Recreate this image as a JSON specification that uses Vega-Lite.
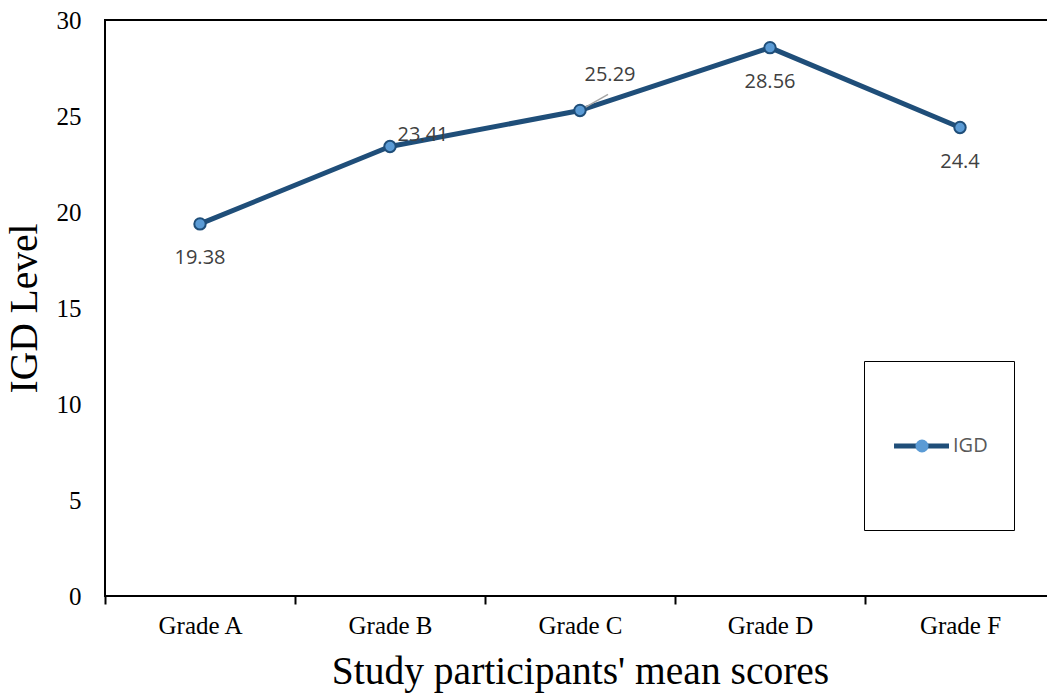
{
  "$schema": "https://vega.github.io/schema/vega-lite/v6.json",
  "width": 950,
  "height": 576,
  "autosize": {"type": "none"},
  "padding": {"left": 105, "top": 20, "right": 0, "bottom": 100},
  "background": "white",
  "config": {
    "view": {"stroke": "#000000", "strokeWidth": 2},
    "axis": {"grid": false, "domain": false},
    "legend": {"symbolSize": 170, "symbolStrokeWidth": 2}
  },
  "data": {
    "values": [
      {"grade": "Grade A", "value": 19.38, "series": "IGD", "marker": "IGD"},
      {"grade": "Grade B", "value": 23.41, "series": "IGD", "marker": "IGD"},
      {"grade": "Grade C", "value": 25.29, "series": "IGD", "marker": "IGD"},
      {"grade": "Grade D", "value": 28.56, "series": "IGD", "marker": "IGD"},
      {"grade": "Grade F", "value": 24.4, "series": "IGD", "marker": "IGD"}
    ]
  },
  "encoding": {
    "x": {
      "field": "grade",
      "type": "nominal",
      "sort": null,
      "scale": {"type": "band", "paddingInner": 0, "paddingOuter": 0},
      "axis": {
        "title": "Study participants' mean scores",
        "titleFont": "Liberation Serif",
        "titleFontSize": 39.5,
        "titleFontWeight": "normal",
        "titleColor": "#000000",
        "titlePadding": 14,
        "labelFont": "Liberation Serif",
        "labelFontSize": 25,
        "labelColor": "#000000",
        "labelAngle": 0,
        "labelPadding": 9,
        "ticks": true,
        "tickBand": "extent",
        "tickSize": 8,
        "tickWidth": 2,
        "tickColor": "#000000"
      }
    },
    "y": {
      "field": "value",
      "type": "quantitative",
      "scale": {"domain": [0, 30], "nice": false, "zero": true},
      "axis": {
        "title": "IGD Level",
        "titleFont": "Liberation Serif",
        "titleFontSize": 39.5,
        "titleFontWeight": "normal",
        "titleColor": "#000000",
        "titlePadding": 12,
        "labelFont": "Liberation Serif",
        "labelFontSize": 25,
        "labelColor": "#000000",
        "labelPadding": 24,
        "ticks": false,
        "values": [0, 5, 10, 15, 20, 25, 30]
      }
    }
  },
  "layer": [
    {
      "mark": {"type": "line", "strokeWidth": 5, "strokeCap": "round", "strokeJoin": "round"},
      "encoding": {
        "color": {
          "field": "series",
          "type": "nominal",
          "scale": {"range": ["#1F4E79"]},
          "legend": {
            "orient": "none",
            "legendX": 759,
            "legendY": 341,
            "zindex": 1,
            "title": null,
            "symbolType": "M-0.973,0L0,0M-0.5,-1L-0.5,-1M-0.5,0.835L-0.5,0.835",
            "symbolStrokeWidth": 5,
            "symbolSize": 12769,
            "strokeColor": "#000000",
            "padding": 26,
            "labelFont": "Open Sans",
            "labelFontSize": 20,
            "labelColor": "#595959",
            "labelOffset": -55
          }
        }
      }
    },
    {
      "transform": [{"filter": "datum.grade === 'Grade C'"}],
      "mark": {"type": "point", "shape": "M0,0L1,-0.57", "size": 3136, "stroke": "#A6A6A6", "strokeWidth": 1.5, "filled": false, "opacity": 1}
    },
    {
      "mark": {"type": "point", "shape": "circle", "filled": false, "fill": "#5B9BD5", "stroke": "#1F4E79", "strokeWidth": 2, "size": 130},
      "encoding": {
        "opacity": {
          "field": "marker",
          "type": "ordinal",
          "scale": {"range": [1, 1]},
          "legend": {
            "orient": "none",
            "legendX": 809,
            "legendY": 418,
            "zindex": 2,
            "title": null,
            "padding": 0,
            "symbolType": "circle",
            "symbolSize": 170,
            "symbolFillColor": "#5B9BD5",
            "symbolStrokeColor": "#1F4E79",
            "symbolStrokeWidth": 2,
            "labelExpr": "''",
            "encode": {
              "symbols": {
                "update": {
                  "fill": {"value": "#5B9BD5"},
                  "stroke": {"value": "#1F4E79"},
                  "strokeWidth": {"value": 2},
                  "size": {"value": 170},
                  "opacity": {"value": 1},
                  "fillOpacity": {"value": 1},
                  "strokeOpacity": {"value": 1}
                }
              }
            }
          }
        }
      }
    },
    {
      "transform": [{"filter": "datum.grade === 'Grade A' || datum.grade === 'Grade D' || datum.grade === 'Grade F'"}],
      "mark": {"type": "text", "font": "Open Sans", "fontSize": 20, "color": "#404040", "baseline": "middle", "dy": 34},
      "encoding": {"text": {"field": "value", "type": "nominal"}}
    },
    {
      "transform": [{"filter": "datum.grade === 'Grade B'"}],
      "mark": {"type": "text", "font": "Open Sans", "fontSize": 20, "color": "#404040", "baseline": "middle", "dx": 33, "dy": -12},
      "encoding": {"text": {"field": "value", "type": "nominal"}}
    },
    {
      "transform": [{"filter": "datum.grade === 'Grade C'"}],
      "mark": {"type": "text", "font": "Open Sans", "fontSize": 20, "color": "#404040", "baseline": "middle", "dx": 30, "dy": -35},
      "encoding": {"text": {"field": "value", "type": "nominal"}}
    }
  ]
}
